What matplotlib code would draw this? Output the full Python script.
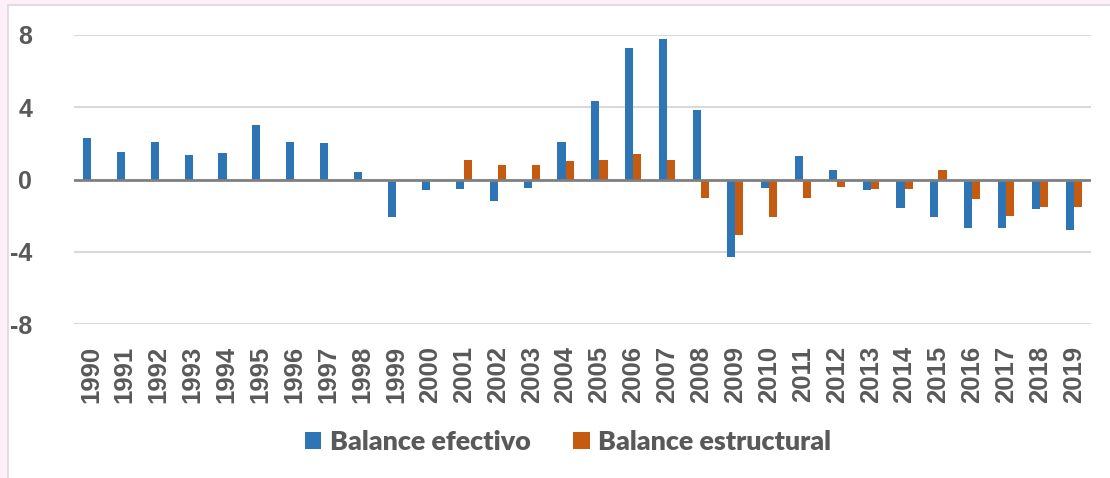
import numpy as np
import matplotlib
matplotlib.use("Agg")
import matplotlib.pyplot as plt
from matplotlib.patches import Rectangle
from matplotlib.lines import Line2D

years = [str(y) for y in range(1990, 2020)]
efectivo = [2.3, 1.5, 2.05, 1.35, 1.45, 3.0, 2.1, 2.0, 0.4, -2.05,
            -0.6, -0.5, -1.2, -0.45, 2.05, 4.35, 7.3, 7.8, 3.85, -4.3,
            -0.45, 1.3, 0.55, -0.6, -1.6, -2.1, -2.7, -2.7, -1.65, -2.8]
estructural = [0, 0, 0, 0, 0, 0, 0, 0, 0, 0,
               0, 1.1, 0.8, 0.8, 1.0, 1.1, 1.4, 1.1, -1.0, -3.1,
               -2.1, -1.0, -0.4, -0.5, -0.5, 0.5, -1.1, -2.0, -1.5, -1.5]
yticks = [-8, -4, 0, 4, 8]

blue = "#2E75B6"
orange = "#C55A11"
txt = "#595959"
W, H = 1110, 478

fig = plt.figure(figsize=(W / 100, H / 100), dpi=100)
fig.patch.set_facecolor("white")

# pink margin + light border like the pasted chart
fig.patches.append(Rectangle((0, 1 - 5 / H), 1, 5 / H, transform=fig.transFigure,
                             facecolor="#fdf0f8", edgecolor="none", zorder=0))
fig.patches.append(Rectangle((0, 0), 8 / W, 1, transform=fig.transFigure,
                             facecolor="#fdf0f8", edgecolor="none", zorder=0))
fig.add_artist(Line2D([8 / W, 1], [1 - 5 / H, 1 - 5 / H], transform=fig.transFigure,
                      color="#d9d9d9", lw=1.2))
fig.add_artist(Line2D([8 / W, 8 / W], [0, 1 - 5 / H], transform=fig.transFigure,
                      color="#d9d9d9", lw=1.2))

ax = fig.add_axes([74 / W, 1 - 324 / H, (1091 - 74) / W, (324 - 35) / H])
x = np.arange(len(years))
bw = 0.24
ax.bar(x - bw / 2, efectivo, bw, color=blue, label="Balance efectivo", zorder=3)
ax.bar(x + bw / 2, estructural, bw, color=orange, label="Balance estructural", zorder=3)

ax.set_xlim(-0.5, len(years) - 0.5)
ax.set_ylim(-8, 8)
ax.set_yticks(yticks)
ax.set_yticklabels([str(t) for t in yticks])
ax.grid(axis="y", color="#d9d9d9", lw=1.5, zorder=0)
ax.axhline(0, color="#808080", lw=2, zorder=4)
for s in ax.spines.values():
    s.set_visible(False)

ax.set_xticks(x)
ax.set_xticklabels(years, rotation=90)
ax.tick_params(axis="both", length=0, labelcolor=txt)
ax.tick_params(axis="x", pad=16)
ax.tick_params(axis="y", pad=30)
for lab in ax.get_yticklabels():
    lab.set_fontfamily("Liberation Sans")
    lab.set_fontweight("bold")
    lab.set_fontsize(18)
for lab in ax.get_xticklabels():
    lab.set_fontfamily("Liberation Sans")
    lab.set_fontweight("bold")
    lab.set_fontsize(18.5)

leg = fig.legend(loc="center", bbox_to_anchor=(568 / W, 1 - 442 / H), ncol=2,
                 frameon=False, handlelength=0.63, handleheight=0.63,
                 handletextpad=0.3, columnspacing=1.6,
                 prop={"family": "Lato", "weight": "heavy", "size": 19.4})
for t in leg.get_texts():
    t.set_color(txt)

fig.savefig("out.png", dpi=100, facecolor=fig.get_facecolor())
